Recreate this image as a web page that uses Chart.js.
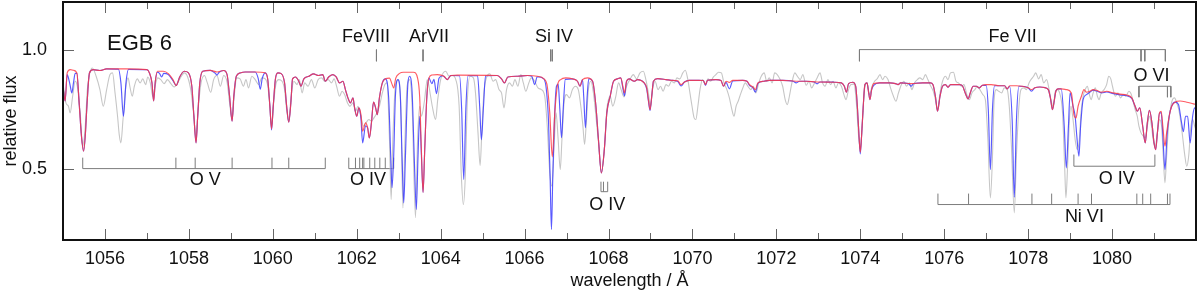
<!DOCTYPE html>
<html>
<head>
<meta charset="utf-8">
<title>EGB 6 spectrum</title>
<script src="https://cdn.jsdelivr.net/npm/chart.js@4.4.1/dist/chart.umd.min.js"></script>
<style>
  html, body { margin: 0; padding: 0; background: #fff; }
  #spec { display: block; }
</style>
</head>
<body>
<canvas id="spec" width="1200" height="292"></canvas>
<script>
// wavelength (A) / relative flux pairs
const observed = [
  [1055.01,0.846],[1055.07,0.776],[1055.13,0.762],[1055.17,0.734],[1055.23,0.804],[1055.29,0.867],[1055.34,0.846],[1055.41,0.734],
  [1055.47,0.594],[1055.53,0.678],[1055.58,0.832],[1055.64,0.902],[1055.70,0.923],[1055.79,0.888],[1055.88,0.832],[1055.96,0.762],
  [1056.04,0.832],[1056.12,0.895],[1056.18,0.902],[1056.24,0.818],[1056.30,0.720],[1056.34,0.643],[1056.38,0.608],[1056.43,0.706],
  [1056.49,0.832],[1056.55,0.881],[1056.60,0.839],[1056.65,0.804],[1056.70,0.846],[1056.77,0.877],[1056.84,0.860],[1056.90,0.877],
  [1056.97,0.853],[1057.02,0.885],[1057.08,0.860],[1057.14,0.804],[1057.20,0.853],[1057.26,0.881],[1057.33,0.874],[1057.41,0.857],
  [1057.49,0.874],[1057.57,0.857],[1057.65,0.843],[1057.73,0.860],[1057.81,0.885],[1057.89,0.902],[1057.97,0.885],[1058.05,0.825],
  [1058.11,0.734],[1058.17,0.629],[1058.22,0.748],[1058.29,0.860],[1058.37,0.891],[1058.44,0.860],[1058.52,0.821],[1058.59,0.874],
  [1058.67,0.891],[1058.75,0.846],[1058.83,0.891],[1058.91,0.863],[1058.97,0.776],[1059.03,0.706],[1059.08,0.804],[1059.14,0.881],
  [1059.22,0.877],[1059.30,0.846],[1059.36,0.874],[1059.42,0.839],[1059.50,0.888],[1059.58,0.874],[1059.66,0.853],[1059.74,0.881],
  [1059.82,0.877],[1059.88,0.846],[1059.93,0.762],[1059.97,0.678],[1060.02,0.776],[1060.08,0.860],[1060.14,0.874],[1060.22,0.867],
  [1060.28,0.832],[1060.33,0.748],[1060.38,0.699],[1060.43,0.790],[1060.50,0.867],[1060.58,0.853],[1060.63,0.874],[1060.70,0.818],
  [1060.76,0.860],[1060.84,0.846],[1060.92,0.874],[1061.00,0.839],[1061.08,0.874],[1061.16,0.881],[1061.24,0.867],[1061.32,0.874],
  [1061.40,0.860],[1061.46,0.877],[1061.52,0.846],[1061.59,0.804],[1061.65,0.825],[1061.71,0.811],[1061.78,0.776],[1061.84,0.762],
  [1061.91,0.776],[1061.97,0.741],[1062.03,0.762],[1062.10,0.720],[1062.16,0.678],[1062.22,0.692],[1062.29,0.706],[1062.35,0.699],
  [1062.41,0.713],[1062.48,0.734],[1062.54,0.762],[1062.61,0.818],[1062.67,0.853],[1062.72,0.860],[1062.78,0.622],[1062.82,0.370],
  [1062.86,0.622],[1062.92,0.846],[1062.99,0.874],[1063.05,0.762],[1063.10,0.335],[1063.15,0.622],[1063.20,0.846],[1063.26,0.874],
  [1063.32,0.762],[1063.40,0.294],[1063.45,0.622],[1063.50,0.762],[1063.54,0.720],[1063.61,0.780],[1063.68,0.874],[1063.76,0.804],
  [1063.80,0.762],[1063.88,0.706],[1063.93,0.790],[1064.00,0.874],[1064.12,0.909],[1064.20,0.888],[1064.28,0.891],[1064.36,0.874],
  [1064.44,0.762],[1064.49,0.482],[1064.54,0.349],[1064.59,0.482],[1064.63,0.762],[1064.70,0.888],[1064.78,0.881],[1064.83,0.818],
  [1064.89,0.650],[1064.94,0.513],[1064.98,0.650],[1065.03,0.818],[1065.09,0.881],[1065.17,0.898],[1065.25,0.867],[1065.31,0.874],
  [1065.39,0.832],[1065.45,0.818],[1065.51,0.755],[1065.57,0.832],[1065.64,0.860],[1065.71,0.846],[1065.77,0.874],[1065.84,0.846],
  [1065.91,0.895],[1065.97,0.860],[1066.03,0.825],[1066.10,0.860],[1066.16,0.881],[1066.24,0.867],[1066.32,0.839],[1066.40,0.832],
  [1066.48,0.804],[1066.54,0.678],[1066.60,0.482],[1066.65,0.426],[1066.71,0.622],[1066.75,0.734],[1066.80,0.622],[1066.85,0.496],
  [1066.89,0.622],[1066.94,0.776],[1067.00,0.811],[1067.07,0.797],[1067.14,0.832],[1067.21,0.846],[1067.28,0.832],[1067.34,0.762],
  [1067.39,0.678],[1067.43,0.601],[1067.47,0.692],[1067.52,0.832],[1067.58,0.867],[1067.64,0.818],[1067.70,0.720],[1067.77,0.594],
  [1067.83,0.482],[1067.90,0.580],[1067.96,0.748],[1068.04,0.804],[1068.10,0.762],[1068.17,0.800],[1068.24,0.860],[1068.30,0.832],
  [1068.37,0.801],[1068.43,0.846],[1068.51,0.874],[1068.59,0.895],[1068.67,0.877],[1068.75,0.902],[1068.83,0.909],[1068.89,0.874],
  [1068.95,0.818],[1069.00,0.762],[1069.05,0.832],[1069.11,0.867],[1069.18,0.832],[1069.24,0.846],[1069.30,0.825],[1069.37,0.853],
  [1069.43,0.846],[1069.50,0.867],[1069.57,0.860],[1069.63,0.881],[1069.70,0.877],[1069.77,0.902],[1069.83,0.913],[1069.89,0.874],
  [1069.94,0.818],[1069.99,0.762],[1070.04,0.713],[1070.08,0.706],[1070.13,0.762],[1070.18,0.832],[1070.24,0.874],[1070.31,0.853],
  [1070.37,0.877],[1070.43,0.867],[1070.50,0.885],[1070.56,0.895],[1070.62,0.905],[1070.69,0.902],[1070.75,0.860],[1070.82,0.832],
  [1070.88,0.797],[1070.94,0.748],[1070.99,0.720],[1071.04,0.762],[1071.09,0.783],[1071.13,0.804],[1071.20,0.839],[1071.26,0.860],
  [1071.32,0.846],[1071.39,0.832],[1071.45,0.846],[1071.51,0.818],[1071.58,0.860],[1071.64,0.888],[1071.71,0.902],[1071.77,0.867],
  [1071.83,0.881],[1071.90,0.860],[1071.96,0.902],[1072.02,0.895],[1072.09,0.874],[1072.15,0.846],[1072.21,0.790],[1072.26,0.769],
  [1072.31,0.804],[1072.37,0.860],[1072.44,0.902],[1072.50,0.888],[1072.57,0.874],[1072.63,0.895],[1072.71,0.850],[1072.78,0.867],
  [1072.84,0.839],[1072.91,0.860],[1072.97,0.881],[1073.04,0.902],[1073.10,0.860],[1073.16,0.846],[1073.23,0.874],[1073.29,0.853],
  [1073.35,0.867],[1073.42,0.839],[1073.48,0.860],[1073.55,0.846],[1073.61,0.811],[1073.66,0.790],[1073.72,0.832],[1073.78,0.853],
  [1073.85,0.855],[1073.90,0.790],[1073.96,0.636],[1074.00,0.580],[1074.05,0.692],[1074.10,0.832],[1074.16,0.860],[1074.22,0.811],
  [1074.28,0.846],[1074.34,0.867],[1074.40,0.877],[1074.47,0.895],[1074.53,0.874],[1074.59,0.888],[1074.66,0.874],[1074.72,0.839],
  [1074.79,0.804],[1074.85,0.783],[1074.91,0.818],[1074.98,0.853],[1075.04,0.867],[1075.10,0.846],[1075.17,0.860],[1075.23,0.832],
  [1075.29,0.860],[1075.36,0.874],[1075.42,0.881],[1075.49,0.874],[1075.55,0.895],[1075.61,0.874],[1075.68,0.846],[1075.74,0.825],
  [1075.79,0.790],[1075.84,0.748],[1075.90,0.818],[1075.96,0.867],[1076.03,0.888],[1076.09,0.874],[1076.15,0.902],[1076.22,0.905],
  [1076.28,0.867],[1076.34,0.860],[1076.41,0.846],[1076.47,0.853],[1076.54,0.811],[1076.60,0.790],[1076.66,0.818],[1076.73,0.832],
  [1076.79,0.846],[1076.85,0.832],[1076.92,0.811],[1076.98,0.790],[1077.04,0.622],[1077.10,0.377],[1077.15,0.550],[1077.19,0.790],
  [1077.24,0.832],[1077.30,0.825],[1077.37,0.818],[1077.43,0.839],[1077.50,0.832],[1077.55,0.762],[1077.60,0.600],[1077.67,0.314],
  [1077.72,0.550],[1077.78,0.762],[1077.83,0.832],[1077.90,0.839],[1077.96,0.832],[1078.02,0.860],[1078.08,0.877],[1078.13,0.888],
  [1078.18,0.902],[1078.25,0.877],[1078.31,0.895],[1078.37,0.860],[1078.44,0.874],[1078.50,0.832],[1078.56,0.776],[1078.60,0.762],
  [1078.64,0.818],[1078.69,0.832],[1078.75,0.818],[1078.82,0.734],[1078.87,0.510],[1078.90,0.377],[1078.94,0.510],[1078.98,0.692],
  [1079.02,0.762],[1079.07,0.706],[1079.12,0.622],[1079.17,0.580],[1079.22,0.622],[1079.26,0.734],[1079.31,0.804],[1079.36,0.832],
  [1079.41,0.846],[1079.46,0.811],[1079.50,0.790],[1079.55,0.818],[1079.60,0.839],[1079.65,0.804],[1079.69,0.790],[1079.74,0.818],
  [1079.81,0.832],[1079.87,0.853],[1079.92,0.888],[1079.97,0.877],[1080.01,0.846],[1080.08,0.804],[1080.14,0.818],[1080.20,0.797],
  [1080.27,0.811],[1080.33,0.804],[1080.40,0.825],[1080.46,0.811],[1080.51,0.776],[1080.55,0.748],[1080.60,0.720],[1080.64,0.678],
  [1080.69,0.650],[1080.75,0.636],[1080.79,0.629],[1080.84,0.678],[1080.89,0.720],[1080.94,0.678],[1080.98,0.622],[1081.03,0.594],
  [1081.08,0.650],[1081.13,0.706],[1081.18,0.678],[1081.22,0.552],[1081.26,0.440],[1081.30,0.552],[1081.35,0.692],[1081.40,0.762],
  [1081.44,0.790],[1081.49,0.797],[1081.54,0.776],[1081.59,0.748],[1081.63,0.706],[1081.68,0.636],[1081.73,0.560],[1081.78,0.510],
  [1081.83,0.560],[1081.87,0.664],[1081.92,0.706],[1081.97,0.678],[1082.02,0.650]
];

const modelBlue = [
  [1055.00,0.846],[1055.05,0.784],[1055.10,0.895],[1055.13,0.881],[1055.17,0.850],[1055.21,0.818],[1055.25,0.860],[1055.29,0.900],
  [1055.33,0.900],[1055.39,0.762],[1055.44,0.636],[1055.49,0.573],[1055.53,0.636],[1055.57,0.762],[1055.63,0.902],[1055.72,0.916],
  [1055.88,0.912],[1056.04,0.919],[1056.32,0.918],[1056.38,0.860],[1056.44,0.720],[1056.50,0.860],[1056.56,0.917],[1057.00,0.916],
  [1057.06,0.902],[1057.12,0.860],[1057.16,0.784],[1057.20,0.867],[1057.25,0.905],[1057.30,0.900],[1057.35,0.885],[1057.40,0.900],
  [1057.51,0.895],[1057.62,0.870],[1057.70,0.849],[1057.78,0.885],[1057.89,0.909],[1057.99,0.902],[1058.07,0.846],[1058.12,0.720],
  [1058.17,0.608],[1058.21,0.720],[1058.26,0.860],[1058.33,0.909],[1058.51,0.913],[1058.63,0.900],[1058.67,0.893],[1058.72,0.905],
  [1058.83,0.912],[1058.91,0.895],[1058.97,0.804],[1059.03,0.699],[1059.07,0.804],[1059.13,0.888],[1059.22,0.902],[1059.34,0.906],
  [1059.58,0.906],[1059.65,0.880],[1059.70,0.834],[1059.75,0.880],[1059.82,0.902],[1059.88,0.874],[1059.93,0.762],[1059.97,0.662],
  [1060.01,0.762],[1060.06,0.874],[1060.12,0.902],[1060.20,0.899],[1060.28,0.860],[1060.33,0.762],[1060.38,0.695],[1060.43,0.776],
  [1060.47,0.877],[1060.54,0.885],[1060.62,0.867],[1060.67,0.846],[1060.74,0.877],[1060.86,0.888],[1060.97,0.898],[1061.09,0.891],
  [1061.19,0.895],[1061.25,0.867],[1061.33,0.885],[1061.43,0.895],[1061.51,0.885],[1061.59,0.860],[1061.67,0.867],[1061.73,0.832],
  [1061.79,0.797],[1061.85,0.776],[1061.91,0.797],[1061.95,0.755],[1062.00,0.720],[1062.05,0.755],[1062.10,0.710],[1062.14,0.608],
  [1062.21,0.680],[1062.26,0.671],[1062.30,0.629],[1062.35,0.692],[1062.40,0.779],[1062.45,0.755],[1062.49,0.727],[1062.54,0.797],
  [1062.61,0.860],[1062.68,0.877],[1062.76,0.800],[1062.81,0.550],[1062.84,0.420],[1062.88,0.550],[1062.92,0.800],[1062.98,0.874],
  [1063.04,0.800],[1063.08,0.550],[1063.12,0.356],[1063.16,0.550],[1063.22,0.860],[1063.26,0.888],[1063.32,0.820],[1063.37,0.550],
  [1063.42,0.328],[1063.46,0.550],[1063.50,0.720],[1063.54,0.560],[1063.58,0.400],[1063.62,0.580],[1063.67,0.800],[1063.72,0.880],
  [1063.79,0.857],[1063.84,0.875],[1063.90,0.815],[1063.96,0.880],[1064.05,0.890],[1064.16,0.874],[1064.24,0.891],[1064.45,0.890],
  [1064.50,0.750],[1064.55,0.454],[1064.60,0.750],[1064.65,0.890],[1064.88,0.890],[1064.93,0.760],[1064.97,0.622],[1065.02,0.760],
  [1065.07,0.890],[1065.35,0.891],[1065.45,0.877],[1065.52,0.860],[1065.60,0.885],[1065.83,0.888],[1066.07,0.891],[1066.17,0.888],
  [1066.24,0.853],[1066.30,0.886],[1066.46,0.877],[1066.52,0.830],[1066.57,0.700],[1066.61,0.450],[1066.64,0.244],[1066.67,0.450],
  [1066.71,0.700],[1066.76,0.846],[1066.80,0.855],[1066.84,0.750],[1066.88,0.630],[1066.92,0.750],[1066.97,0.875],[1067.14,0.877],
  [1067.26,0.867],[1067.32,0.846],[1067.38,0.874],[1067.41,0.800],[1067.45,0.672],[1067.49,0.800],[1067.53,0.878],[1067.62,0.867],
  [1067.70,0.762],[1067.76,0.622],[1067.83,0.482],[1067.90,0.580],[1067.96,0.734],[1068.04,0.804],[1068.12,0.867],[1068.21,0.877],
  [1068.29,0.881],[1068.35,0.830],[1068.38,0.805],[1068.43,0.867],[1068.49,0.877],[1068.61,0.867],[1068.69,0.874],[1068.85,0.860],
  [1068.91,0.835],[1068.95,0.785],[1068.99,0.744],[1069.03,0.804],[1069.07,0.867],[1069.17,0.878],[1069.37,0.874],[1069.49,0.871],
  [1069.65,0.866],[1069.73,0.847],[1069.81,0.864],[1069.92,0.871],[1070.16,0.871],[1070.26,0.870],[1070.31,0.850],[1070.36,0.871],
  [1070.56,0.874],[1070.68,0.870],[1070.74,0.846],[1070.80,0.862],[1070.88,0.835],[1070.96,0.868],[1071.20,0.871],[1071.30,0.867],
  [1071.36,0.850],[1071.44,0.840],[1071.50,0.821],[1071.56,0.858],[1071.70,0.867],[1071.83,0.871],[1072.15,0.871],[1072.40,0.867],
  [1072.47,0.860],[1072.55,0.867],[1072.71,0.867],[1072.90,0.864],[1072.97,0.856],[1073.04,0.864],[1073.38,0.863],[1073.55,0.860],
  [1073.62,0.846],[1073.67,0.821],[1073.72,0.857],[1073.82,0.863],[1073.89,0.846],[1073.93,0.762],[1073.97,0.636],[1074.00,0.562],
  [1074.03,0.636],[1074.07,0.762],[1074.11,0.853],[1074.16,0.860],[1074.20,0.818],[1074.23,0.790],[1074.27,0.832],[1074.32,0.850],
  [1074.46,0.860],[1074.70,0.860],[1074.84,0.857],[1074.90,0.853],[1074.96,0.860],[1075.15,0.857],[1075.21,0.846],[1075.27,0.857],
  [1075.49,0.860],[1075.67,0.860],[1075.73,0.853],[1075.79,0.804],[1075.84,0.741],[1075.90,0.804],[1075.96,0.846],[1076.03,0.853],
  [1076.09,0.842],[1076.15,0.853],[1076.37,0.853],[1076.44,0.846],[1076.50,0.818],[1076.57,0.793],[1076.62,0.818],[1076.69,0.846],
  [1076.77,0.846],[1076.83,0.839],[1076.91,0.850],[1077.00,0.850],[1077.05,0.750],[1077.10,0.496],[1077.15,0.750],[1077.20,0.848],
  [1077.32,0.848],[1077.44,0.848],[1077.50,0.835],[1077.56,0.845],[1077.62,0.700],[1077.67,0.380],[1077.72,0.700],[1077.78,0.846],
  [1078.00,0.840],[1078.08,0.825],[1078.16,0.840],[1078.28,0.843],[1078.40,0.840],[1078.48,0.832],[1078.53,0.797],[1078.58,0.748],
  [1078.62,0.783],[1078.66,0.825],[1078.71,0.835],[1078.79,0.835],[1078.86,0.678],[1078.91,0.503],[1078.96,0.678],[1079.00,0.818],
  [1079.07,0.762],[1079.12,0.720],[1079.16,0.636],[1079.21,0.552],[1079.25,0.678],[1079.31,0.790],[1079.39,0.811],[1079.47,0.821],
  [1079.55,0.830],[1079.63,0.826],[1079.75,0.818],[1079.87,0.822],[1080.03,0.815],[1080.19,0.810],[1080.35,0.806],[1080.47,0.795],
  [1080.55,0.762],[1080.60,0.741],[1080.66,0.755],[1080.73,0.678],[1080.79,0.608],[1080.84,0.692],[1080.89,0.745],[1080.95,0.692],
  [1081.00,0.608],[1081.04,0.580],[1081.08,0.650],[1081.13,0.734],[1081.17,0.735],[1081.21,0.640],[1081.26,0.496],[1081.31,0.640],
  [1081.36,0.720],[1081.42,0.762],[1081.50,0.779],[1081.58,0.770],[1081.65,0.700],[1081.70,0.655],[1081.75,0.720],[1081.80,0.720],
  [1081.86,0.608],[1081.92,0.720],[1081.97,0.755],[1082.00,0.745]
];

const modelRed = [
  [1055.00,0.846],[1055.05,0.784],[1055.10,0.902],[1055.17,0.916],[1055.25,0.913],[1055.33,0.902],[1055.39,0.762],[1055.44,0.636],
  [1055.49,0.573],[1055.53,0.636],[1055.57,0.762],[1055.63,0.902],[1055.72,0.916],[1055.88,0.912],[1056.04,0.919],[1056.50,0.919],
  [1057.00,0.916],[1057.06,0.902],[1057.12,0.860],[1057.16,0.784],[1057.20,0.867],[1057.25,0.909],[1057.39,0.909],[1057.51,0.899],
  [1057.62,0.874],[1057.70,0.849],[1057.78,0.885],[1057.89,0.909],[1057.99,0.902],[1058.07,0.846],[1058.12,0.720],[1058.17,0.608],
  [1058.21,0.720],[1058.26,0.860],[1058.33,0.909],[1058.51,0.913],[1058.67,0.906],[1058.83,0.912],[1058.91,0.895],[1058.97,0.804],
  [1059.03,0.699],[1059.07,0.804],[1059.13,0.888],[1059.22,0.902],[1059.34,0.906],[1059.58,0.906],[1059.82,0.902],[1059.88,0.874],
  [1059.93,0.762],[1059.97,0.667],[1060.01,0.762],[1060.06,0.874],[1060.12,0.902],[1060.20,0.899],[1060.28,0.860],[1060.33,0.762],
  [1060.38,0.695],[1060.43,0.776],[1060.47,0.877],[1060.54,0.885],[1060.62,0.867],[1060.67,0.846],[1060.74,0.877],[1060.86,0.888],
  [1060.97,0.898],[1061.09,0.891],[1061.19,0.895],[1061.25,0.867],[1061.33,0.885],[1061.43,0.895],[1061.51,0.885],[1061.59,0.860],
  [1061.67,0.867],[1061.73,0.832],[1061.79,0.797],[1061.85,0.776],[1061.91,0.797],[1061.95,0.755],[1062.00,0.720],[1062.05,0.755],
  [1062.10,0.727],[1062.14,0.657],[1062.21,0.692],[1062.26,0.671],[1062.30,0.629],[1062.35,0.692],[1062.40,0.779],[1062.45,0.755],
  [1062.49,0.727],[1062.54,0.797],[1062.61,0.860],[1062.68,0.877],[1062.78,0.880],[1062.84,0.855],[1062.88,0.839],[1062.93,0.880],
  [1063.02,0.900],[1063.11,0.905],[1063.35,0.905],[1063.45,0.880],[1063.50,0.800],[1063.54,0.580],[1063.58,0.400],[1063.62,0.580],
  [1063.67,0.800],[1063.72,0.880],[1063.79,0.893],[1063.92,0.895],[1064.08,0.888],[1064.16,0.874],[1064.24,0.891],[1064.40,0.893],
  [1065.35,0.891],[1065.45,0.877],[1065.52,0.860],[1065.60,0.885],[1065.83,0.888],[1066.07,0.891],[1066.30,0.888],[1066.46,0.877],
  [1066.54,0.846],[1066.60,0.734],[1066.66,0.549],[1066.72,0.734],[1066.78,0.846],[1066.86,0.874],[1066.98,0.881],[1067.14,0.877],
  [1067.26,0.867],[1067.32,0.846],[1067.38,0.874],[1067.50,0.881],[1067.62,0.867],[1067.70,0.762],[1067.76,0.622],[1067.83,0.482],
  [1067.90,0.580],[1067.96,0.734],[1068.04,0.804],[1068.12,0.867],[1068.21,0.877],[1068.29,0.881],[1068.35,0.839],[1068.38,0.818],
  [1068.43,0.867],[1068.49,0.877],[1068.61,0.867],[1068.69,0.874],[1068.85,0.860],[1068.91,0.839],[1068.95,0.790],[1068.99,0.748],
  [1069.03,0.804],[1069.07,0.867],[1069.17,0.878],[1069.37,0.874],[1069.49,0.871],[1069.65,0.869],[1069.73,0.853],[1069.81,0.864],
  [1069.92,0.871],[1070.16,0.871],[1070.26,0.870],[1070.31,0.853],[1070.36,0.871],[1070.56,0.874],[1070.68,0.870],[1070.74,0.846],
  [1070.80,0.867],[1070.88,0.862],[1070.96,0.871],[1071.20,0.871],[1071.30,0.867],[1071.36,0.853],[1071.44,0.843],[1071.50,0.832],
  [1071.56,0.860],[1071.70,0.867],[1071.83,0.871],[1072.15,0.871],[1072.47,0.867],[1072.71,0.867],[1072.97,0.864],[1073.38,0.863],
  [1073.55,0.860],[1073.62,0.846],[1073.67,0.821],[1073.72,0.857],[1073.82,0.863],[1073.89,0.846],[1073.93,0.762],[1073.97,0.636],
  [1074.00,0.569],[1074.03,0.636],[1074.07,0.762],[1074.11,0.853],[1074.16,0.860],[1074.20,0.818],[1074.23,0.790],[1074.27,0.832],
  [1074.32,0.857],[1074.46,0.860],[1074.70,0.860],[1074.84,0.857],[1074.90,0.853],[1074.96,0.860],[1075.21,0.857],[1075.49,0.860],
  [1075.67,0.860],[1075.73,0.853],[1075.79,0.804],[1075.84,0.741],[1075.90,0.804],[1075.96,0.846],[1076.03,0.853],[1076.09,0.842],
  [1076.15,0.853],[1076.37,0.853],[1076.44,0.846],[1076.50,0.818],[1076.57,0.793],[1076.62,0.818],[1076.69,0.846],[1076.77,0.846],
  [1076.83,0.839],[1076.91,0.850],[1077.00,0.853],[1077.12,0.853],[1077.32,0.848],[1077.44,0.848],[1077.50,0.835],[1077.56,0.848],
  [1077.72,0.848],[1078.00,0.840],[1078.08,0.832],[1078.16,0.840],[1078.28,0.843],[1078.40,0.840],[1078.48,0.832],[1078.53,0.797],
  [1078.58,0.748],[1078.62,0.783],[1078.66,0.825],[1078.71,0.835],[1078.79,0.835],[1078.91,0.832],[1079.03,0.818],[1079.09,0.727],
  [1079.14,0.713],[1079.19,0.762],[1079.27,0.804],[1079.33,0.832],[1079.39,0.821],[1079.47,0.825],[1079.55,0.832],[1079.63,0.829],
  [1079.75,0.821],[1079.87,0.825],[1080.03,0.818],[1080.19,0.813],[1080.35,0.809],[1080.47,0.797],[1080.55,0.762],[1080.60,0.741],
  [1080.66,0.755],[1080.73,0.678],[1080.79,0.608],[1080.84,0.692],[1080.89,0.745],[1080.95,0.692],[1081.00,0.608],[1081.04,0.580],
  [1081.08,0.650],[1081.13,0.734],[1081.17,0.741],[1081.21,0.678],[1081.26,0.594],[1081.30,0.650],[1081.36,0.720],[1081.42,0.762],
  [1081.50,0.779],[1081.62,0.784],[1081.78,0.779],[1081.94,0.772],[1082.00,0.770]
];

// line identifications (wavelengths in A)
const oV    = [1055.47, 1057.69, 1058.15, 1059.03, 1059.98, 1060.38, 1061.25];
const oIV_a = [1061.81, 1061.97, 1062.07, 1062.14, 1062.17, 1062.31, 1062.43, 1062.55, 1062.68, 1062.88];
const feVIII = [1062.47];
const arVII  = [1063.58];
const siIV   = [1066.62, 1066.66];
const oIV_b = [1067.82, 1067.88, 1067.98];
const feVII = [1073.98, 1080.69, 1080.78, 1081.27];
const oVI   = [1080.64, 1081.32, 1081.40];
const oIV_c = [1079.09, 1081.02];
const niVI  = [1075.85, 1076.58, 1078.09, 1078.56, 1079.19, 1079.51, 1080.59, 1080.73, 1080.92, 1081.32, 1081.38];

// [lines, bar level, tick end, joined by a bar]
const idMarks = [
  [oV, 0.500, 0.546, true],
  [oIV_a, 0.500, 0.546, true],
  [feVIII, 1.000, 0.951, false],
  [arVII, 1.000, 0.951, false],
  [siIV, 1.000, 0.951, false],
  [oIV_b, 0.403, 0.445, true],
  [feVII, 1.000, 0.951, true],
  [oVI, 0.846, 0.800, true],
  [oIV_c, 0.510, 0.559, true],
  [niVI, 0.349, 0.395, true]
];

// [text, wavelength, flux of baseline]
const idLabels = [
  ['FeVIII', 1062.22, 1.030],
  ['ArVII', 1063.72, 1.030],
  ['Si IV', 1066.70, 1.030],
  ['Fe VII', 1077.63, 1.030],
  ['O VI', 1080.94, 0.866],
  ['O V', 1058.39, 0.429],
  ['O IV', 1062.27, 0.429],
  ['O IV', 1067.97, 0.324],
  ['O IV', 1080.11, 0.437],
  ['Ni VI', 1079.34, 0.277]
];

const xTicks = [1056, 1058, 1060, 1062, 1064, 1066, 1068, 1070, 1072, 1074, 1076, 1078, 1080];
const yTicks = [0.5, 1.0];

const FONT = '"Liberation Sans", Arial, Helvetica, sans-serif';

function toPoints(pairs) {
  return pairs.map(p => ({ x: p[0], y: p[1] }));
}

function markPoints(mark) {
  const [lines, bar, tip, joined] = mark;
  const pts = [];
  if (joined && lines.length > 1) {
    pts.push({ x: lines[0], y: bar }, { x: lines[lines.length - 1], y: bar }, { x: lines[0], y: null });
  }
  lines.forEach(l => {
    pts.push({ x: l, y: bar }, { x: l, y: tip }, { x: l, y: null });
  });
  return pts;
}

const markSets = idMarks.map(m => ({
  data: markPoints(m),
  borderColor: '#7c7c7c',
  borderWidth: 1,
  pointRadius: 0,
  tension: 0,
  spanGaps: false,
  fill: false
}));

const framePlugin = {
  id: 'frame',
  afterDatasetsDraw(chart) {
    const { ctx, chartArea: a, scales: { x, y } } = chart;
    ctx.save();
    ctx.strokeStyle = '#666';
    ctx.lineWidth = 1;
    ctx.beginPath();
    for (let w = 1056; w <= 1081; w++) {
      const px = Math.round(x.getPixelForValue(w)) + 0.5;
      const len = w % 2 === 0 ? 11 : 7;
      ctx.moveTo(px, a.bottom); ctx.lineTo(px, a.bottom - len);
      ctx.moveTo(px, a.top); ctx.lineTo(px, a.top + len);
    }
    yTicks.forEach(v => {
      const py = Math.round(y.getPixelForValue(v)) + 0.5;
      ctx.moveTo(a.left, py); ctx.lineTo(a.left + 11, py);
      ctx.moveTo(a.right, py); ctx.lineTo(a.right - 11, py);
    });
    ctx.stroke();

    ctx.strokeStyle = '#111';
    ctx.lineWidth = 2;
    ctx.strokeRect(a.left, a.top, a.right - a.left, a.bottom - a.top);

    ctx.fillStyle = '#111';
    ctx.textBaseline = 'alphabetic';
    ctx.textAlign = 'center';
    ctx.font = '18px ' + FONT;
    idLabels.forEach(([t, w, f]) => {
      ctx.fillText(t, x.getPixelForValue(w), y.getPixelForValue(f));
    });
    ctx.textAlign = 'left';
    ctx.font = '22px ' + FONT;
    ctx.fillText('EGB 6', x.getPixelForValue(1056.05), y.getPixelForValue(1.0));
    ctx.restore();
  }
};

const ctx = document.getElementById('spec').getContext('2d');
new Chart(ctx, {
  type: 'line',
  data: {
    datasets: [
      { label: 'model 2', data: toPoints(modelRed), borderColor: 'rgba(255, 55, 65, 0.82)', borderWidth: 1.15, pointRadius: 0, cubicInterpolationMode: 'monotone', fill: false },
      { label: 'model 1', data: toPoints(modelBlue), borderColor: 'rgba(60, 60, 255, 0.85)', borderWidth: 1.15, pointRadius: 0, cubicInterpolationMode: 'monotone', fill: false },
      { label: 'observed', data: toPoints(observed), borderColor: '#c6c6c6', borderWidth: 1.1, pointRadius: 0, cubicInterpolationMode: 'monotone', fill: false },
      ...markSets
    ]
  },
  options: {
    responsive: false,
    animation: false,
    events: [],
    layout: { padding: { top: 2, right: 4, left: 0, bottom: 0 } },
    plugins: { legend: { display: false }, tooltip: { enabled: false } },
    scales: {
      x: {
        type: 'linear',
        min: 1055,
        max: 1082,
        grid: { display: false, drawTicks: false },
        border: { display: false },
        afterBuildTicks: s => { s.ticks = xTicks.map(v => ({ value: v })); },
        afterFit: s => { s.height = 52; s.paddingLeft = 0; s.paddingRight = 0; },
        ticks: {
          autoSkip: false,
          maxRotation: 0,
          padding: 8,
          color: '#111',
          font: { family: FONT, size: 18 },
          callback: v => String(v)
        },
        title: {
          display: true,
          text: 'wavelength / Å',
          color: '#111',
          font: { family: FONT, size: 18 },
          padding: { top: 0, bottom: 0 }
        }
      },
      y: {
        min: 0.2,
        max: 1.2,
        grid: { display: false, drawTicks: false },
        border: { display: false },
        afterBuildTicks: s => { s.ticks = yTicks.map(v => ({ value: v })); },
        afterFit: s => { s.width = 63; s.paddingTop = 0; s.paddingBottom = 0; },
        ticks: {
          padding: 16,
          color: '#111',
          font: { family: FONT, size: 18 },
          callback: v => v.toFixed(1)
        },
        title: {
          display: true,
          text: 'relative flux',
          color: '#111',
          font: { family: FONT, size: 18 },
          padding: { top: 0, bottom: 0 }
        }
      }
    }
  },
  plugins: [framePlugin]
});
</script>
</body>
</html>
